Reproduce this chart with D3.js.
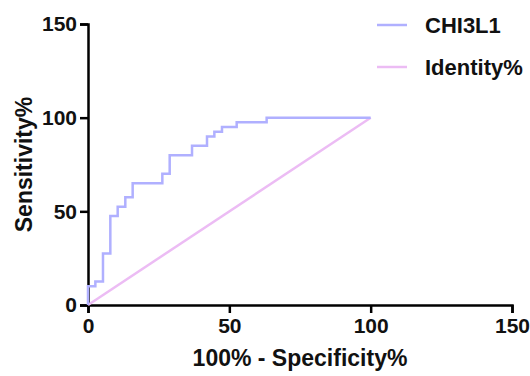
<!DOCTYPE html>
<html>
<head>
<meta charset="utf-8">
<script src="https://cdn.jsdelivr.net/npm/d3@7"></script>
<style>
  body { margin: 0; background: #fff; }
  svg text { font-family: "Liberation Sans", Arial, sans-serif; font-weight: bold; fill: #111; }
</style>
</head>
<body>
<svg id="chart"></svg>
<script>
// ROC corner points (100% - Specificity%, Sensitivity%)
const rocX = [0, 0, 2.6, 5.3, 7.9, 10.5, 13.2, 15.8, 26.3, 28.9, 36.8, 42.1, 44.7, 47.4, 52.6, 63.2, 100];
const rocY = [0, 10, 12.5, 27.5, 47.5, 52.5, 57.5, 65, 70, 80, 85, 90, 92.5, 95, 97.5, 100, 100];
const identityX = [0, 100];
const identityY = [0, 100];
const xTicks = [0, 50, 100, 150];
const yTicks = [0, 50, 100, 150];
const seriesNames = ["CHI3L1", "Identity%"];
const colors = ["#b0b0ff", "#ecbcf4"];

const svgWidth = 530, svgHeight = 376;
const margin = { top: 24, right: 18, bottom: 71, left: 88 };
const width = svgWidth - margin.left - margin.right;
const height = svgHeight - margin.top - margin.bottom;

const svg = d3.select("#chart").attr("width", svgWidth).attr("height", svgHeight);
const g = svg.append("g").attr("transform", `translate(${margin.left},${margin.top})`);

const x = d3.scaleLinear().domain([0, 150]).range([0, width]);
const y = d3.scaleLinear().domain([0, 150]).range([height, 0]);

// axes
const xAxis = g.append("g")
  .attr("transform", `translate(0,${height})`)
  .call(d3.axisBottom(x).tickValues(xTicks).tickSize(8).tickPadding(5));
const yAxis = g.append("g")
  .call(d3.axisLeft(y).tickValues(yTicks).tickSize(8).tickPadding(3));

[xAxis, yAxis].forEach(a => {
  a.select(".domain").attr("stroke", "#000").attr("stroke-width", 2.5);
  a.selectAll(".tick line").attr("stroke", "#000").attr("stroke-width", 2.5);
  a.selectAll(".tick text").style("font-size", "21px").attr("fill", "#111");
});

// lines
const line = d3.line()
  .x(d => x(d[0]))
  .y(d => y(d[1]));

g.append("path")
  .datum(identityX.map((v, i) => [v, identityY[i]]))
  .attr("d", line)
  .attr("fill", "none")
  .attr("stroke", colors[1])
  .attr("stroke-width", 2.5);

g.append("path")
  .datum(rocX.map((v, i) => [v, rocY[i]]))
  .attr("d", line.curve(d3.curveStepAfter))
  .attr("fill", "none")
  .attr("stroke", colors[0])
  .attr("stroke-width", 2.5);

// axis titles
svg.append("text")
  .attr("x", margin.left + width / 2)
  .attr("y", 366)
  .attr("text-anchor", "middle")
  .style("font-size", "23px")
  .text("100% - Specificity%");

svg.append("text")
  .attr("transform", `translate(32,${margin.top + height / 2}) rotate(-90)`)
  .attr("text-anchor", "middle")
  .style("font-size", "23px")
  .text("Sensitivity%");

// legend
const legend = svg.append("g").attr("transform", "translate(377,25)");
seriesNames.forEach((name, i) => {
  const row = legend.append("g").attr("transform", `translate(0,${i * 42})`);
  row.append("line")
    .attr("x1", 0).attr("x2", 30)
    .attr("stroke", colors[i]).attr("stroke-width", 2.5);
  row.append("text")
    .attr("x", 48).attr("y", 8)
    .style("font-size", "22px")
    .text(name);
});
</script>
</body>
</html>
